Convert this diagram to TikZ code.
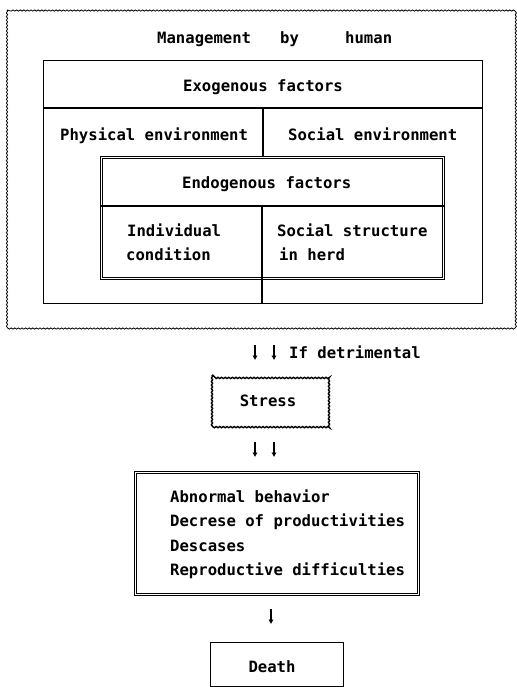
\documentclass[tikz,border=0pt]{standalone}
\usepackage{fontspec}
\setmainfont{DejaVu Sans Mono}
\usetikzlibrary{decorations.pathmorphing,arrows.meta}
\begin{document}
\begin{tikzpicture}[x=1pt,y=-1pt,
  txt/.style={inner sep=0pt, anchor=base west, font=\fontsize{15.6}{18}\selectfont\bfseries},
  ctxt/.style={txt, anchor=base},
  wavy/.style={decorate, decoration={snake, amplitude=0.6pt, segment length=3.6pt}},
  boxnode/.style={draw, inner sep=0pt, anchor=north west},
  plainbox/.style={boxnode, line width=1.3pt},
  dblbox/.style={boxnode, fill=white, double, double distance=0.8pt, line width=0.9pt},
  divider/.style={line width=1.1pt},
  downarrow/.style={line width=1.4pt, -{Latex[length=4.5pt,width=5.5pt]}}]
\useasboundingbox (0,0) rectangle (516,687);

% outer wavy frame
\draw[wavy, line width=0.8pt] (7,10) rectangle (514,327);
\node[txt] (mgmt) at (157,43.5) {Management};
\node[txt] (by) at (280,43.5) {by};
\node[txt] (human) at (345,43.5) {human};

% exogenous
\node[plainbox, minimum width=439pt, minimum height=243pt] (exo) at (43,60) {};
\draw[divider] ([yshift=-48pt]exo.north west) -- ([yshift=-48pt]exo.north east);
\draw[divider] ([xshift=220pt,yshift=-48pt]exo.north west) -- ([xshift=220pt,yshift=-97pt]exo.north west);
\draw[divider] ([xshift=219pt]exo.south west) -- ([xshift=219pt,yshift=25pt]exo.south west);
\node[txt] (exot) at (183,91.5) {Exogenous factors};
\node[txt] (phys) at (60,140.5) {Physical environment};
\node[txt] (soc) at (288,140.5) {Social environment};

% endogenous
\node[dblbox, minimum width=342pt, minimum height=121pt] (endo) at (101,157) {};
\draw[divider] ([yshift=-49pt]endo.north west) -- ([yshift=-49pt]endo.north east);
\draw[divider] ([xshift=161pt,yshift=-49pt]endo.north west) -- ([xshift=161pt]endo.south west);
\node[txt] (endot) at (182,188.5) {Endogenous factors};
\node[txt] (indiv) at (127,236.5) {Individual};
\node[txt] (cond) at (126,260.5) {condition};
\node[txt] (socs) at (277,236.5) {Social structure};
\node[txt] (herd) at (279,260.5) {in herd};

% arrows and stress
\coordinate (a1s) at (255,345); \coordinate (a1e) at (255,360);
\coordinate (a2s) at (274,345); \coordinate (a2e) at (274,360);
\draw[downarrow] (a1s) -- (a1e);
\draw[downarrow] (a2s) -- (a2e);
\node[txt] (ifdet) at (289,358.5) {If detrimental};
\draw[wavy, line width=1.4pt] (212,375) rectangle (328,426);
\node[ctxt] (stress) at (268,406.5) {Stress};
\coordinate (b1s) at (255,442); \coordinate (b1e) at (255,457);
\coordinate (b2s) at (274,442); \coordinate (b2e) at (274,457);
\draw[downarrow] (b1s) -- (b1e);
\draw[downarrow] (b2s) -- (b2e);

% effects
\node[dblbox, minimum width=283pt, minimum height=122pt] (eff) at (135,472) {};
\node[txt] (e1) at (170,502.5) {Abnormal behavior};
\node[txt] (e2) at (170,526.5) {Decrese of productivities};
\node[txt] (e3) at (170,551.5) {Descases};
\node[txt] (e4) at (170,575.5) {Reproductive difficulties};

\coordinate (c1s) at (271,609); \coordinate (c1e) at (271,624);
\draw[downarrow] (c1s) -- (c1e);

% death
\node[plainbox, line width=1.2pt, minimum width=133pt, minimum height=44pt] (death) at (210,642) {};
\node[ctxt] (deatht) at (272,672.5) {Death};
\end{tikzpicture}
\end{document}
